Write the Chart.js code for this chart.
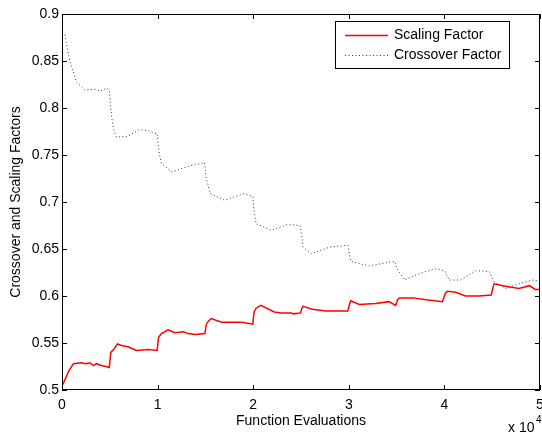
<!DOCTYPE html>
<html>
<head>
<meta charset="utf-8">
<script src="https://cdn.jsdelivr.net/npm/chart.js@4/dist/chart.umd.min.js"></script>
<style>
  html, body { margin: 0; padding: 0; background: #fff; }
  #wrap { width: 542px; height: 435px; }
</style>
</head>
<body>
<div id="wrap"><canvas id="chart" width="542" height="435"></canvas></div>
<script>
// function evaluations and the two factors
const scaleEvals = [0, 700, 1200, 2000, 2500, 2900, 3300, 3600, 4100, 4600, 4950,
  5100, 5400, 5800, 6300, 6900, 7800, 9000, 9950,
  10100, 10400, 11100, 11800, 12700, 13200, 13900, 14950,
  15100, 15300, 15600, 16700, 17700, 18800, 19950,
  20100, 20300, 20800, 22200, 23000, 24000, 24200, 24950,
  25100, 25200, 26200, 27600, 29900,
  30100, 30200, 31100, 32800, 34200, 34900,
  35100, 35300, 36700, 38100, 39800,
  40100, 40300, 41200, 42200, 43600, 44900,
  45100, 45200, 46100, 47800, 48900, 49500, 50000];
const scaleValues = [0.504, 0.520, 0.528, 0.529, 0.528, 0.529, 0.526, 0.528, 0.526, 0.525, 0.524,
  0.540, 0.543, 0.549, 0.547, 0.546, 0.542, 0.543, 0.542,
  0.556, 0.560, 0.564, 0.561, 0.562, 0.560, 0.559, 0.560,
  0.570, 0.573, 0.576, 0.572, 0.572, 0.572, 0.570,
  0.583, 0.587, 0.590, 0.583, 0.582, 0.582, 0.581, 0.582,
  0.587, 0.589, 0.586, 0.584, 0.584,
  0.592, 0.595, 0.591, 0.592, 0.594, 0.590,
  0.596, 0.598, 0.598, 0.596, 0.594,
  0.603, 0.605, 0.604, 0.600, 0.600, 0.601,
  0.610, 0.613, 0.611, 0.608, 0.611, 0.607, 0.607];

const crossEvals = [0, 300, 800, 1500, 2400, 3400, 4000, 4700, 4950,
  5200, 5400, 5700, 6900, 8100, 9000, 9700, 9950,
  10200, 10400, 11500, 13200, 14900,
  15100, 15500, 17000, 19100, 19950,
  20100, 20300, 21900, 23600, 24900,
  25100, 25200, 26100, 28000, 29900,
  30100, 30200, 32100, 34800,
  35000, 35800, 37400, 39100, 40000,
  40500, 41700, 43300, 44700,
  45200, 46400, 47800, 49200, 50000];
const crossValues = [0.880, 0.878, 0.851, 0.828, 0.819, 0.820, 0.818, 0.821, 0.819,
  0.790, 0.777, 0.769, 0.770, 0.777, 0.776, 0.773, 0.773,
  0.750, 0.741, 0.732, 0.738, 0.742,
  0.725, 0.709, 0.702, 0.709, 0.706,
  0.690, 0.677, 0.670, 0.676, 0.675,
  0.662, 0.652, 0.645, 0.652, 0.654,
  0.642, 0.637, 0.632, 0.637,
  0.630, 0.617, 0.624, 0.629, 0.627,
  0.617, 0.617, 0.627, 0.626,
  0.615, 0.608, 0.613, 0.617, 0.616];

const xTicks = [0, 10000, 20000, 30000, 40000, 50000];
const yTicks = [0.5, 0.55, 0.6, 0.65, 0.7, 0.75, 0.8, 0.85, 0.9];
const seriesNames = ['Scaling Factor', 'Crossover Factor'];

const FONT = 'Liberation Sans, Arial, Helvetica, sans-serif';

function toPoints(xs, ys) {
  return xs.map((x, i) => ({ x: x, y: ys[i] }));
}

// matlab style box, inward ticks, legend and exponent label
const matlabFrame = {
  id: 'matlabFrame',
  afterDatasetsDraw(chart) {
    const ctx = chart.ctx;
    const a = chart.chartArea;
    const xs = chart.scales.x, ys = chart.scales.y;
    ctx.save();
    ctx.strokeStyle = '#000';
    ctx.lineWidth = 1;
    ctx.strokeRect(a.left + 0.5, a.top + 0.5, a.right - a.left - 1, a.bottom - a.top - 1);
    ctx.beginPath();
    xTicks.forEach(v => {
      const px = Math.round(xs.getPixelForValue(v)) + 0.5;
      ctx.moveTo(px, a.bottom); ctx.lineTo(px, a.bottom - 5);
      ctx.moveTo(px, a.top); ctx.lineTo(px, a.top + 5);
    });
    yTicks.forEach(v => {
      const py = Math.round(ys.getPixelForValue(v)) + 0.5;
      ctx.moveTo(a.left, py); ctx.lineTo(a.left + 5, py);
      ctx.moveTo(a.right, py); ctx.lineTo(a.right - 5, py);
    });
    ctx.stroke();

    // legend
    const lx = 335, ly = 21, lw = 174, lh = 47;
    ctx.fillStyle = '#fff';
    ctx.fillRect(lx, ly, lw, lh);
    ctx.strokeRect(lx + 0.5, ly + 0.5, lw, lh);
    chart.data.datasets.forEach((ds, i) => {
      const y = ly + 14 + i * 20;
      ctx.beginPath();
      ctx.strokeStyle = ds.borderColor;
      ctx.lineWidth = ds.borderWidth;
      ctx.setLineDash(ds.borderDash || []);
      ctx.moveTo(345, y + 0.5); ctx.lineTo(388, y + 0.5);
      ctx.stroke();
      ctx.setLineDash([]);
      ctx.fillStyle = '#000';
      ctx.font = '14px ' + FONT;
      ctx.textBaseline = 'middle';
      ctx.textAlign = 'left';
      ctx.fillText(ds.label, 394, y);
    });

    // x 10^4
    ctx.fillStyle = '#000';
    ctx.font = '14px ' + FONT;
    ctx.textBaseline = 'alphabetic';
    ctx.textAlign = 'left';
    ctx.fillText('x 10', 508, 432);
    ctx.font = '10px ' + FONT;
    ctx.fillText('4', 536, 423);
    ctx.restore();
  }
};

new Chart(document.getElementById('chart'), {
  type: 'line',
  data: {
    datasets: [{
      label: seriesNames[0],
      data: toPoints(scaleEvals, scaleValues),
      borderColor: '#ff0000',
      borderWidth: 1.5,
      pointRadius: 0,
      tension: 0
    }, {
      label: seriesNames[1],
      data: toPoints(crossEvals, crossValues),
      borderColor: '#333333',
      borderWidth: 1,
      borderDash: [1, 2.5],
      pointRadius: 0,
      tension: 0
    }]
  },
  options: {
    responsive: false,
    animation: false,
    layout: { padding: { top: 14, right: 2, left: 0, bottom: 0 } },
    plugins: {
      legend: { display: false },
      tooltip: { enabled: false }
    },
    scales: {
      x: {
        type: 'linear',
        min: 0,
        max: 50000,
        afterFit: s => { s.height = 45; s.paddingLeft = 0; s.paddingRight = 0; },
        afterBuildTicks: s => { s.ticks = xTicks.map(v => ({ value: v })); },
        grid: { display: false, drawTicks: false },
        border: { display: false },
        ticks: {
          padding: 7,
          color: '#000',
          font: { family: FONT, size: 14 },
          maxRotation: 0,
          callback: v => String(v / 10000)
        },
        title: {
          display: true,
          text: 'Function Evaluations',
          color: '#000',
          font: { family: FONT, size: 14 },
          padding: { top: 0, bottom: 5 }
        }
      },
      y: {
        min: 0.5,
        max: 0.9,
        afterFit: s => { s.width = 62; s.paddingTop = 0; s.paddingBottom = 0; },
        afterBuildTicks: s => { s.ticks = yTicks.map(v => ({ value: v })); },
        grid: { display: false, drawTicks: false },
        border: { display: false },
        ticks: {
          padding: 3,
          color: '#000',
          font: { family: FONT, size: 14 },
          callback: v => String(Math.round(v * 100) / 100)
        },
        title: {
          display: true,
          text: 'Crossover and Scaling Factors',
          color: '#000',
          font: { family: FONT, size: 14 },
          padding: { top: 8, bottom: 0 }
        }
      }
    }
  },
  plugins: [matlabFrame]
});
</script>
</body>
</html>
